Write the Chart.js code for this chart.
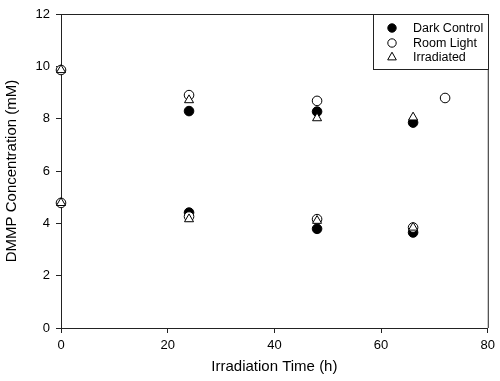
<!DOCTYPE html>
<html>
<head>
<meta charset="utf-8">
<script src="https://cdn.jsdelivr.net/npm/chart.js@4.4.1/dist/chart.umd.min.js"></script>
<style>
html,body{margin:0;padding:0;background:#fff;}
#wrap{width:500px;height:381px;}
</style>
</head>
<body>
<div id="wrap"><canvas id="c" width="500" height="381"></canvas></div>
<script>
// Data
const darkTime = [24, 48, 66, 24, 48, 66];
const darkConc = [8.29, 8.27, 7.85, 4.41, 3.79, 3.65];

const roomTime = [0, 24, 48, 72, 0, 24, 48, 66];
const roomConc = [9.86, 8.90, 8.68, 8.79, 4.78, 4.26, 4.16, 3.84];

const irrTime = [0, 24, 48, 66, 0, 24, 48, 66];
const irrConc = [9.86, 8.71, 8.02, 8.05, 4.78, 4.16, 4.10, 3.84];

const seriesLabels = ['Dark Control', 'Room Light', 'Irradiated'];
const xTicks = [0, 20, 40, 60, 80];
const yTicks = [0, 2, 4, 6, 8, 10, 12];

const toPts = (xs, ys) => xs.map((x, i) => ({x: x, y: ys[i]}));

const FONT = '"Liberation Sans", Arial, sans-serif';

const frameAndLegend = {
  id: 'frameAndLegend',
  afterDraw(chart) {
    const ctx = chart.ctx;
    const a = chart.chartArea;
    ctx.save();
    ctx.strokeStyle = '#222';
    ctx.lineWidth = 1;
    ctx.beginPath();
    ctx.moveTo(a.left, a.top + 0.5);
    ctx.lineTo(a.right + 0.5, a.top + 0.5);
    ctx.lineTo(a.right + 0.5, a.bottom);
    ctx.stroke();

    // legend box
    const bx = 373.5, by = a.top + 0.5, bw = 115, bh = 55;
    ctx.fillStyle = '#fff';
    ctx.fillRect(bx, by, bw, bh);
    ctx.strokeStyle = '#222';
    ctx.strokeRect(bx, by, bw, bh);
    const rows = [28, 43, 57];
    ctx.font = '12.5px ' + FONT;
    ctx.textBaseline = 'middle';
    ctx.textAlign = 'left';
    chart.data.datasets.forEach((ds, i) => {
      const y = rows[i];
      ctx.fillStyle = ds.backgroundColor;
      ctx.strokeStyle = '#000';
      ctx.lineWidth = ds.borderWidth;
      ctx.beginPath();
      if (ds.pointStyle === 'circle') {
        ctx.arc(392, y, 4.2, 0, Math.PI * 2);
      } else {
        const r = 4.8;
        ctx.moveTo(392, y - r);
        ctx.lineTo(392 + r * 0.9, y + r * 0.6);
        ctx.lineTo(392 - r * 0.9, y + r * 0.6);
        ctx.closePath();
      }
      ctx.fill();
      ctx.stroke();
      ctx.fillStyle = '#000';
      ctx.fillText(ds.label, 413, y + 0.5);
    });
    ctx.restore();
  }
};

new Chart(document.getElementById('c'), {
  type: 'scatter',
  data: {
    datasets: [
      {label: seriesLabels[0], data: toPts(darkTime, darkConc), pointStyle: 'circle', clip: false,
       backgroundColor: '#000', borderColor: '#000', borderWidth: 1, pointRadius: 4.8, order: 3},
      {label: seriesLabels[1], data: toPts(roomTime, roomConc), pointStyle: 'circle', clip: false,
       backgroundColor: '#fff', borderColor: '#000', borderWidth: 1, pointRadius: 4.8, order: 2},
      {label: seriesLabels[2], data: toPts(irrTime, irrConc), pointStyle: 'triangle', clip: false,
       backgroundColor: '#fff', borderColor: '#000', borderWidth: 1, pointRadius: 5.2, order: 1}
    ]
  },
  options: {
    responsive: false,
    animation: false,
    devicePixelRatio: 1,
    layout: {padding: {top: 14, right: 10, left: 0, bottom: 0}},
    plugins: {legend: {display: false}, tooltip: {enabled: false}},
    scales: {
      x: {
        type: 'linear', min: 0, max: 80,
        afterFit(s) { s.height = 53; },
        afterBuildTicks(s) { s.ticks = xTicks.map(v => ({value: v})); },
        grid: {drawOnChartArea: false, drawTicks: true, tickLength: 5, tickColor: '#222'},
        border: {display: true, color: '#222', width: 1},
        ticks: {color: '#000', font: {family: FONT, size: 13}, padding: 5, maxRotation: 0},
        title: {display: true, text: 'Irradiation Time (h)', color: '#000',
                font: {family: FONT, size: 15}, padding: {top: 4, bottom: 5}}
      },
      y: {
        type: 'linear', min: 0, max: 12,
        afterFit(s) { s.width = 61; },
        afterBuildTicks(s) { s.ticks = yTicks.map(v => ({value: v})); },
        grid: {drawOnChartArea: false, drawTicks: true, tickLength: 5, tickColor: '#222'},
        border: {display: true, color: '#222', width: 1},
        ticks: {color: '#000', font: {family: FONT, size: 13}, padding: 6},
        title: {display: true, text: 'DMMP Concentration (mM)', color: '#000',
                font: {family: FONT, size: 15}, padding: {top: 3, bottom: 4}}
      }
    }
  },
  plugins: [frameAndLegend]
});
</script>
</body>
</html>
